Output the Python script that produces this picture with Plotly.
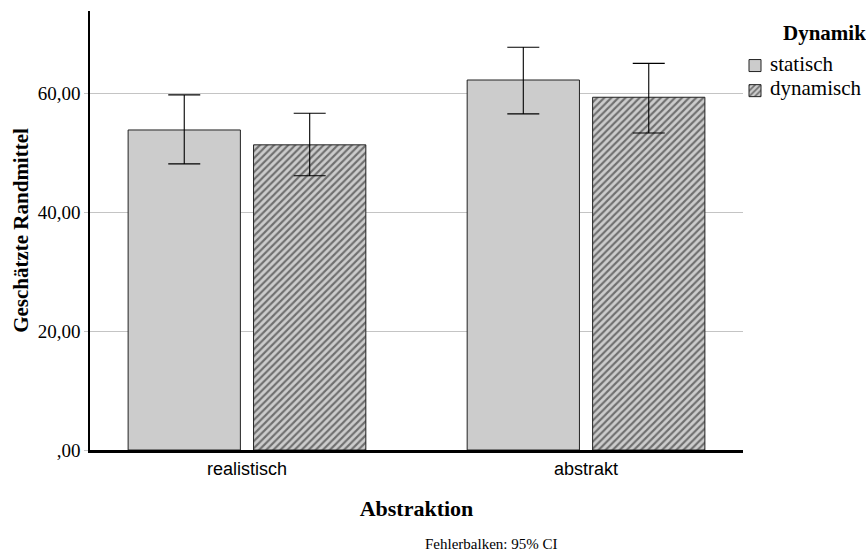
import plotly.graph_objects as go

# Estimated marginal means with 95% confidence intervals
categories = ["realistisch", "abstrakt"]
groups = ["statisch", "dynamisch"]
means_statisch = [53.8, 62.2]
ci_low_statisch = [48.1, 56.5]
ci_high_statisch = [59.7, 67.7]
means_dynamisch = [51.3, 59.3]
ci_low_dynamisch = [46.1, 53.3]
ci_high_dynamisch = [56.6, 65.0]
y_ticks = [0, 20, 40, 60]
y_tick_labels = [",00", "20,00", "40,00", "60,00"]
legend_title = "Dynamik"

SERIF = "'Liberation Serif', 'Times New Roman', serif"
SANS = "'Liberation Sans', Arial, sans-serif"

# plot area in pixels (used to place legend labels in paper coordinates)
L, R, T, B = 90, 123, 11, 104
W, H = 866, 554
PW, PH = W - L - R, H - T - B


def px_x(x):
    return (x - L) / PW


def px_y(y):
    return (H - B - y) / PH


def err(means, lo, hi):
    return dict(
        type="data",
        symmetric=False,
        array=[h - m for m, h in zip(means, hi)],
        arrayminus=[m - l for m, l in zip(means, lo)],
        color="black",
        thickness=1.1,
        width=16,
    )


fig = go.Figure()
fig.add_trace(go.Bar(
    name="\u00a0", legendgroup=groups[0], x=categories, y=means_statisch,
    hovertext=[groups[0]] * len(categories),
    marker=dict(color="#cccccc", line=dict(color="#222222", width=1)),
    error_y=err(means_statisch, ci_low_statisch, ci_high_statisch),
))
fig.add_trace(go.Bar(
    name="\u00a0", legendgroup=groups[1], x=categories, y=means_dynamisch,
    hovertext=[groups[1]] * len(categories),
    marker=dict(
        color="#cccccc",
        line=dict(color="#222222", width=1),
        pattern=dict(shape="/", fgcolor="#111111", bgcolor="#cccccc",
                     size=5, solidity=0.42, fillmode="overlay"),
    ),
    error_y=err(means_dynamisch, ci_low_dynamisch, ci_high_dynamisch),
))

# the legend draws the swatches; its title and labels are serif annotations
legend_labels = [
    dict(text=f"<b>{legend_title}</b>", x=px_x(781), y=px_y(33)),
    dict(text=groups[0], x=px_x(768), y=px_y(64)),
    dict(text=groups[1], x=px_x(768), y=px_y(88)),
]
annotations = [
    dict(text=a["text"], xref="paper", yref="paper", x=a["x"], y=a["y"],
         xanchor="left", yanchor="middle", showarrow=False,
         font=dict(family=SERIF, size=21, color="black"))
    for a in legend_labels
]
annotations.append(dict(
    text="Fehlerbalken: 95% CI", xref="paper", yref="paper",
    x=px_x(491), y=px_y(544), xanchor="center", yanchor="middle",
    showarrow=False, font=dict(family=SERIF, size=15),
))

fig.update_layout(
    width=W, height=H,
    margin=dict(l=L, r=R, t=T, b=B, autoexpand=False),
    paper_bgcolor="white", plot_bgcolor="white",
    barmode="group", bargap=0.26, bargroupgap=0.105,
    font=dict(family=SERIF, color="black"),
    legend=dict(
        font=dict(family=SERIF, size=17, color="black"),
        x=px_x(735), xanchor="left", y=px_y(48), yanchor="top",
        itemwidth=30, tracegroupgap=0,
        bgcolor="rgba(0,0,0,0)",
    ),
    xaxis=dict(
        range=[-0.463, 1.463],
        showline=True, linecolor="black", linewidth=3,
        ticks="", tickfont=dict(family=SANS, size=18),
        title=dict(text="<b>Abstraktion</b>", font=dict(family=SERIF, size=22), standoff=24),
        showgrid=False,
    ),
    yaxis=dict(
        range=[0, 73.8],
        tickvals=y_ticks, ticktext=y_tick_labels,
        tickfont=dict(family=SERIF, size=19),
        showline=True, linecolor="black", linewidth=1.5,
        ticks="outside", ticklen=4, tickcolor="#c4c4c4",
        showgrid=True, gridcolor="#c4c4c4", gridwidth=1,
        zeroline=False,
        title=dict(text="<b>Geschätzte Randmittel</b>", font=dict(family=SERIF, size=21), standoff=3),
    ),
    annotations=annotations,
)

fig.write_html("out.html")
